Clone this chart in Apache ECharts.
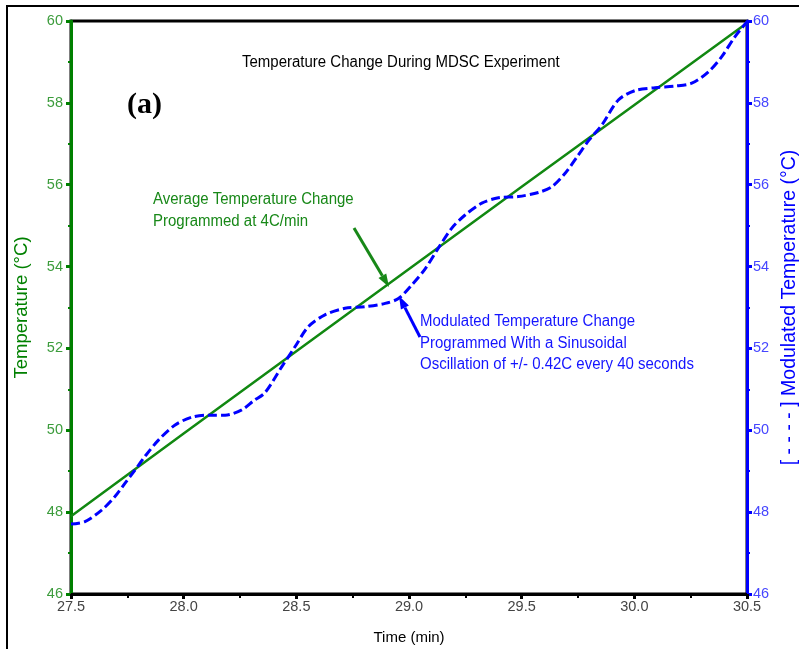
<!DOCTYPE html>
<html>
<head>
<meta charset="utf-8">
<script src="https://cdn.jsdelivr.net/npm/echarts@6/dist/echarts.min.js"></script>
<style>
  html, body { margin: 0; padding: 0; background: #fff; }
  #chart { width: 799px; height: 649px; }
</style>
</head>
<body>
<div id="chart"></div>
<script>
// time (min), temperature (°C)
const averageTemp = [
  [27.5, 47.9], [28.0, 49.92], [28.5, 51.93], [29.0, 53.94], [29.5, 55.95], [30.0, 57.95], [30.5, 59.95],
];
const modulatedTemp = [
  [27.5, 47.71], [27.562, 47.77], [27.636, 48.05], [27.695, 48.38], [27.74, 48.71], [27.784, 49.03],
  [27.828, 49.36], [27.888, 49.76], [27.962, 50.13], [28.036, 50.32], [28.109, 50.37], [28.184, 50.37],
  [28.258, 50.5], [28.31, 50.72], [28.361, 50.92], [28.435, 51.55], [28.494, 52.04], [28.553, 52.53],
  [28.627, 52.82], [28.716, 52.98], [28.805, 53.02], [28.894, 53.1], [28.953, 53.22], [29.012, 53.55],
  [29.071, 53.94], [29.13, 54.45], [29.19, 54.94], [29.249, 55.26], [29.323, 55.55], [29.397, 55.68],
  [29.485, 55.71], [29.574, 55.81], [29.634, 55.95], [29.693, 56.28], [29.752, 56.73], [29.796, 57.07],
  [29.856, 57.46], [29.929, 58.07], [30.003, 58.3], [30.092, 58.37], [30.181, 58.41], [30.255, 58.48],
  [30.329, 58.76], [30.388, 59.13], [30.447, 59.62], [30.5, 59.98],
];
const greenNote = ['Average Temperature Change', 'Programmed at 4C/min'];
const blueNote = [
  'Modulated Temperature Change',
  'Programmed With a Sinusoidal',
  'Oscillation of +/- 0.42C every 40 seconds',
];

const GREEN = '#008000';
const BLUE = '#0000ff';
const font = 'Arial, "Liberation Sans", sans-serif';

const chart = echarts.init(document.getElementById('chart'));

function arrow(x1, y1, x2, y2, color) {
  const ang = Math.atan2(y2 - y1, x2 - x1);
  const len = 13;
  const half = 4.5;
  const bx = x2 - len * Math.cos(ang);
  const by = y2 - len * Math.sin(ang);
  const px = -Math.sin(ang);
  const py = Math.cos(ang);
  return [
    {
      type: 'line',
      shape: { x1, y1, x2: bx, y2: by },
      style: { stroke: color, lineWidth: 3 },
    },
    {
      type: 'polygon',
      shape: { points: [[x2, y2], [bx + px * half, by + py * half], [bx - px * half, by - py * half]] },
      style: { fill: color },
    },
  ];
}

// text in the reference is a bit tall, stretch it a little
function note(x, y, lines, color) {
  return {
    type: 'text',
    x,
    y,
    scaleY: 1.15,
    style: { text: lines.join('\n'), fill: color, font: `15px ${font}`, lineHeight: 19 },
    z: 100,
  };
}

chart.setOption({
  animation: false,
  grid: {
    left: 71,
    right: 52,
    top: 21,
    bottom: 55,
    outerBoundsMode: 'none',
    show: true,
    borderColor: '#000',
    borderWidth: 3,
    backgroundColor: '#fff',
  },
  xAxis: {
    type: 'value',
    min: 27.5,
    max: 30.5,
    interval: 0.5,
    name: 'Time (min)',
    nameLocation: 'middle',
    nameGap: 36,
    nameTextStyle: { color: '#000', fontSize: 15, fontFamily: font },
    axisLine: { lineStyle: { color: '#000', width: 3 } },
    axisTick: { length: 5, lineStyle: { color: '#000', width: 3 } },
    minorTick: { show: true, splitNumber: 2, length: 4, lineStyle: { color: '#000', width: 2 } },
    axisLabel: { color: '#444', fontSize: 14.5, fontFamily: font, margin: 5, formatter: (v) => v.toFixed(1) },
    splitLine: { show: false },
  },
  yAxis: [
    {
      type: 'value',
      min: 46,
      max: 60,
      interval: 2,
      name: 'Temperature (°C)',
      nameLocation: 'middle',
      nameGap: 40,
      nameTextStyle: { color: GREEN, fontSize: 18.5, fontFamily: font },
      axisLine: { show: true, lineStyle: { color: GREEN, width: 3 } },
      axisTick: { show: true, length: 5, lineStyle: { color: GREEN, width: 3 } },
      minorTick: { show: true, splitNumber: 2, length: 3, lineStyle: { color: GREEN, width: 2 } },
      axisLabel: { color: '#3c9c3c', fontSize: 14.5, fontFamily: font, margin: 8 },
      splitLine: { show: false },
    },
    {
      type: 'value',
      position: 'right',
      min: 46,
      max: 60,
      interval: 2,
      name: '[ - - - - ] Modulated Temperature (°C)',
      nameLocation: 'middle',
      nameGap: 33,
      nameRotate: 90,
      nameTextStyle: { color: BLUE, fontSize: 19.5, fontFamily: font },
      axisLine: { show: true, lineStyle: { color: BLUE, width: 3 } },
      axisTick: { show: true, length: 5, lineStyle: { color: BLUE, width: 3 } },
      minorTick: { show: true, splitNumber: 2, length: 3, lineStyle: { color: BLUE, width: 2 } },
      axisLabel: { color: '#4646ff', fontSize: 14.5, fontFamily: font, margin: 6 },
      splitLine: { show: false },
    },
  ],
  series: [
    {
      name: 'Average',
      type: 'line',
      yAxisIndex: 0,
      data: averageTemp,
      symbol: 'none',
      lineStyle: { color: '#118811', width: 2.5 },
      z: 3,
    },
    {
      name: 'Modulated',
      type: 'line',
      yAxisIndex: 1,
      data: modulatedTemp,
      smooth: 0.3,
      symbol: 'none',
      lineStyle: { color: BLUE, width: 3, type: [9, 4] },
      z: 4,
    },
  ],
  graphic: [
    {
      type: 'rect',
      shape: { x: 7, y: 6, width: 820, height: 700 },
      style: { fill: 'none', stroke: '#000', lineWidth: 2 },
      silent: true,
      z: 100,
    },
    note(242, 51, ['Temperature Change During MDSC Experiment'], '#000'),
    {
      type: 'text',
      x: 127,
      y: 90,
      style: { text: '(a)', fill: '#000', font: 'bold 30px "Times New Roman", "Liberation Serif", serif' },
      z: 100,
    },
    note(153, 188, greenNote, '#188818'),
    note(420, 310, blueNote, '#1414ff'),
    ...arrow(354, 228, 389, 287, '#188818'),
    ...arrow(420, 337, 399, 296, BLUE),
  ],
});
</script>
</body>
</html>
